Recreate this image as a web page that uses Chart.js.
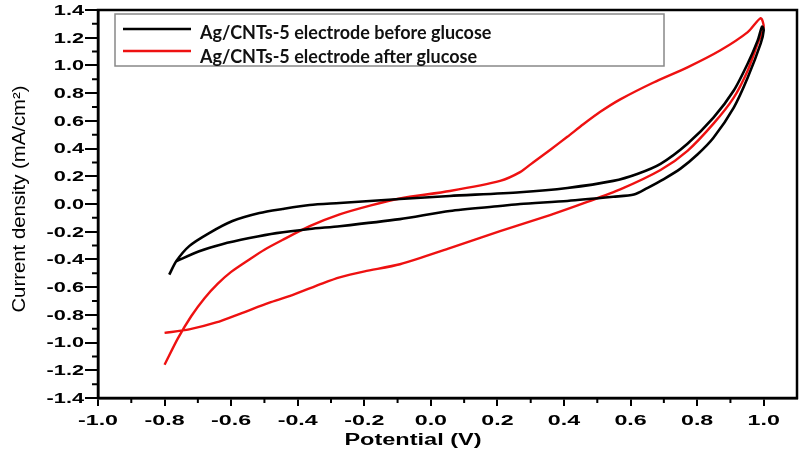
<!DOCTYPE html>
<html>
<head>
<meta charset="utf-8">
<style>
  html, body { margin: 0; padding: 0; background: #fff; }
  #wrap { width: 800px; height: 456px; }
</style>
<script src="https://cdn.jsdelivr.net/npm/chart.js@4.4.0/dist/chart.umd.min.js"></script>
</head>
<body>
<div id="wrap"><canvas id="cv"></canvas></div>
<script>
// CV loops (potential in V, current density in mA/cm2)
var seriesNames = ['Ag/CNTs-5 electrode before glucose', 'Ag/CNTs-5 electrode after glucose'];

var beforePotential = [-0.786, -0.765, -0.726, -0.666, -0.596, -0.515, -0.446, -0.364, -0.274, -0.093, 0.057, 0.268, 0.410, 0.548, 0.620, 0.690, 0.771, 0.849, 0.910, 0.952, 0.982, 0.995,
  1.0, 0.991, 0.952, 0.910, 0.849, 0.800, 0.750, 0.700, 0.650, 0.610, 0.548, 0.410, 0.268, 0.208, 0.057, -0.093, -0.274, -0.364, -0.464, -0.545, -0.627, -0.696, -0.765];
var beforeCurrent = [-0.51, -0.413, -0.304, -0.210, -0.123, -0.065, -0.036, -0.007, 0.007, 0.036, 0.058, 0.085, 0.116, 0.167, 0.217, 0.290, 0.435, 0.623, 0.819, 1.014, 1.181, 1.28,
  1.254, 1.159, 0.913, 0.696, 0.478, 0.355, 0.255, 0.180, 0.115, 0.068, 0.052, 0.022, 0.0, -0.015, -0.05, -0.109, -0.16, -0.18, -0.210, -0.246, -0.290, -0.341, -0.413];

var afterPotential = [-0.80, -0.76, -0.72, -0.68, -0.64, -0.60, -0.545, -0.50, -0.446, -0.364, -0.274, -0.18, -0.093, 0.057, 0.208, 0.268, 0.307, 0.358, 0.410, 0.458, 0.509, 0.569, 0.669, 0.771, 0.870, 0.952, 0.991,
  1.0, 0.982, 0.952, 0.910, 0.849, 0.771, 0.690, 0.569, 0.470, 0.358, 0.208, 0.057, -0.093, -0.199, -0.274, -0.325, -0.425, -0.485, -0.566, -0.645, -0.726, -0.80];
var afterCurrent = [-1.16, -0.97, -0.81, -0.68, -0.575, -0.49, -0.40, -0.33, -0.26, -0.16, -0.075, -0.01, 0.04, 0.094, 0.167, 0.23, 0.30, 0.39, 0.485, 0.575, 0.665, 0.755, 0.877, 0.986, 1.109, 1.24, 1.341,
  1.275, 1.159, 0.964, 0.768, 0.580, 0.384, 0.245, 0.105, 0.015, -0.08, -0.196, -0.319, -0.435, -0.486, -0.529, -0.572, -0.665, -0.712, -0.785, -0.855, -0.905, -0.93];

var xTicks = [-1.0, -0.8, -0.6, -0.4, -0.2, 0.0, 0.2, 0.4, 0.6, 0.8, 1.0];
var yTicks = [-1.4, -1.2, -1.0, -0.8, -0.6, -0.4, -0.2, 0.0, 0.2, 0.4, 0.6, 0.8, 1.0, 1.2, 1.4];
var xTitle = 'Potential (V)';
var yTitle = 'Current density (mA/cm²)';

function pairs(xs, ys) {
  return xs.map(function(x, i) { return { x: x, y: ys[i] }; });
}

// the source figure is stretched sideways, so the texts are drawn wide
function wideText(ctx, txt, x, y, sx, align) {
  ctx.save();
  ctx.translate(x, y);
  ctx.scale(sx, 1);
  ctx.textAlign = align;
  ctx.fillText(txt, 0, 0);
  ctx.restore();
}

var framePlugin = {
  id: 'frame',
  afterDraw: function(chart) {
    var ctx = chart.ctx, a = chart.chartArea;
    var sx = chart.scales.x, sy = chart.scales.y;
    ctx.save();
    ctx.strokeStyle = '#000';
    ctx.lineWidth = 2.5;
    ctx.strokeRect(a.left, a.top, a.right - a.left, a.bottom - a.top);

    // minor ticks
    ctx.lineWidth = 2;
    ctx.beginPath();
    xTicks.forEach(function(v) {
      var px = sx.getPixelForValue(v + 0.1);
      if (px <= a.right - 2) { ctx.moveTo(px, a.bottom); ctx.lineTo(px, a.bottom + 5); }
    });
    yTicks.slice(0, -1).forEach(function(v) {
      var py = sy.getPixelForValue(v + 0.1);
      ctx.moveTo(a.left, py); ctx.lineTo(a.left - 6, py);
    });
    ctx.stroke();

    // tick labels
    ctx.fillStyle = '#000';
    ctx.textBaseline = 'middle';
    ctx.font = "bold 14px 'Liberation Sans', Arial, sans-serif";
    sy.ticks.forEach(function(t) {
      wideText(ctx, t.value.toFixed(1), 84, sy.getPixelForValue(t.value) + 1, 1.55, 'right');
    });
    ctx.font = "bold 15px 'Liberation Sans', Arial, sans-serif";
    sx.ticks.forEach(function(t) {
      wideText(ctx, t.value.toFixed(1), sx.getPixelForValue(t.value), 421, 1.55, 'center');
    });

    // axis titles
    ctx.font = "bold 16px 'Liberation Sans', Arial, sans-serif";
    wideText(ctx, xTitle, 413, 441, 1.47, 'center');
    ctx.save();
    ctx.translate(20, 199);
    ctx.rotate(-Math.PI / 2);
    ctx.font = "18px 'Liberation Sans', Arial, sans-serif";
    wideText(ctx, yTitle, 0, 0, 1.13, 'center');
    ctx.restore();

    // legend box
    ctx.fillStyle = '#fff';
    ctx.fillRect(115, 14, 549, 52);
    ctx.strokeStyle = '#888';
    ctx.lineWidth = 1.5;
    ctx.strokeRect(115, 14, 549, 52);
    ctx.font = "bold 18px Lato, 'Open Sans', sans-serif";
    ctx.textAlign = 'left';
    chart.data.datasets.forEach(function(ds, k) {
      var ly = k === 0 ? 29 : 51;
      ctx.strokeStyle = ds.borderColor;
      ctx.lineWidth = 2.5;
      ctx.beginPath(); ctx.moveTo(123, ly); ctx.lineTo(191, ly); ctx.stroke();
      ctx.fillStyle = '#111';
      ctx.fillText(ds.label, 200, k === 0 ? 33 : 57);
    });
    ctx.restore();
  }
};

new Chart(document.getElementById('cv'), {
  type: 'scatter',
  data: {
    datasets: [
      { label: seriesNames[0], data: pairs(beforePotential, beforeCurrent), borderColor: '#000', borderWidth: 2.6, showLine: true, pointRadius: 0, tension: 0.25, fill: false },
      { label: seriesNames[1], data: pairs(afterPotential, afterCurrent), borderColor: '#ee1111', borderWidth: 2.4, showLine: true, pointRadius: 0, tension: 0.25, fill: false }
    ]
  },
  options: {
    responsive: true,
    maintainAspectRatio: false,
    animation: false,
    layout: { padding: { top: 10, right: 3, left: 0, bottom: 0 } },
    plugins: { legend: { display: false }, tooltip: { enabled: false } },
    scales: {
      x: {
        type: 'linear', min: -1.0, max: 1.1,
        afterBuildTicks: function(s) { s.ticks = xTicks.map(function(v) { return { value: v }; }); },
        afterFit: function(s) { s.height = 58; },
        ticks: { display: false },
        grid: { drawOnChartArea: false, drawTicks: true, tickLength: 8, color: '#000', lineWidth: 2 },
        border: { display: true, color: '#000', width: 2.5 }
      },
      y: {
        type: 'linear', min: -1.4, max: 1.4,
        afterBuildTicks: function(s) { s.ticks = yTicks.map(function(v) { return { value: v }; }); },
        afterFit: function(s) { s.width = 98; },
        ticks: { display: false },
        grid: { drawOnChartArea: false, drawTicks: true, tickLength: 13, color: '#000', lineWidth: 2 },
        border: { display: true, color: '#000', width: 2.5 }
      }
    }
  },
  plugins: [framePlugin]
});
</script>
</body>
</html>
